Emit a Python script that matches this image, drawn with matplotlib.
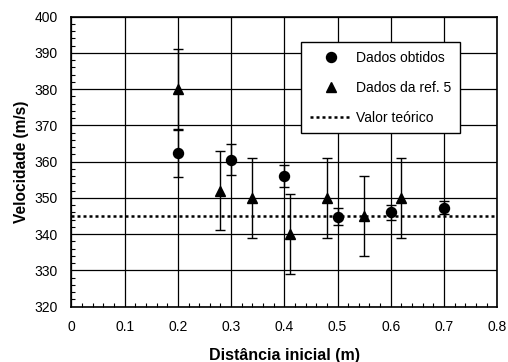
import numpy as np
import matplotlib
matplotlib.use('Agg')
import matplotlib.pyplot as plt
from matplotlib.ticker import MultipleLocator
from matplotlib.lines import Line2D

plt.rcParams['font.family'] = ['Liberation Sans', 'DejaVu Sans']

# dados obtidos
x_obt = [0.2, 0.3, 0.4, 0.5, 0.6, 0.7]
v_obt = [362.3, 360.5, 356.0, 344.8, 346.0, 347.2]
e_obt = [6.5, 4.2, 3.0, 2.4, 2.0, 1.8]

# dados da ref. 5
x_ref = [0.2, 0.28, 0.34, 0.41, 0.48, 0.55, 0.62]
v_ref = [380, 352, 350, 340, 350, 345, 350]
e_ref = [11, 11, 11, 11, 11, 11, 11]

v_teorico = 345

fig = plt.figure(figsize=(5.08, 3.62), dpi=100)
ax = fig.add_axes([0.1407, 0.1533, 0.838, 0.801])

ax.errorbar(x_obt, v_obt, yerr=e_obt, fmt='o', color='black', ms=7.2,
            capsize=3.5, elinewidth=1, capthick=1, zorder=4)
ax.errorbar(x_ref, v_ref, yerr=e_ref, fmt='^', color='black', ms=7.5,
            capsize=3.5, elinewidth=1, capthick=1, zorder=4)
ax.axhline(v_teorico, color='black', lw=1.8, linestyle=(0, (1.2, 1.2)), zorder=3)

ax.set_xlim(0, 0.8)
ax.set_ylim(320, 400)
ax.set_xticks(np.arange(0, 0.81, 0.1))
ax.set_xticklabels(['0', '0.1', '0.2', '0.3', '0.4', '0.5', '0.6', '0.7', '0.8'])
ax.xaxis.set_minor_locator(MultipleLocator(0.02))
ax.yaxis.set_major_locator(MultipleLocator(10))
ax.yaxis.set_minor_locator(MultipleLocator(2))
ax.tick_params(which='both', direction='in', top=False, right=False, labelsize=10)
ax.tick_params(which='major', length=0, pad=10)
ax.tick_params(which='minor', length=3, width=0.8)
ax.grid(True, which='major', color='black', lw=0.9)
for s in ax.spines.values():
    s.set_linewidth(1.2)

ax.set_xlabel('Distância inicial (m)', fontsize=11.5, fontweight='bold', labelpad=10)
ax.set_ylabel('Velocidade (m/s)', fontsize=11.2, fontweight='bold', labelpad=3.5)

handles = [
    Line2D([], [], ls='none', marker='o', color='black', ms=7.2),
    Line2D([], [], ls='none', marker='^', color='black', ms=7.5),
    Line2D([], [], color='black', lw=1.8, ls=(0, (1.2, 1.2))),
]
labels = ['Dados obtidos', 'Dados da ref. 5', 'Valor teórico']
leg = ax.legend(handles, labels, loc='upper left', bbox_to_anchor=(0.54, 0.911),
                borderaxespad=0, fontsize=10, frameon=True, fancybox=False,
                edgecolor='black', framealpha=1, labelspacing=1.15,
                handlelength=3.0, handletextpad=0.35, borderpad=0.6)
leg.get_frame().set_linewidth(1)

fig.savefig('out.png', dpi=100)
